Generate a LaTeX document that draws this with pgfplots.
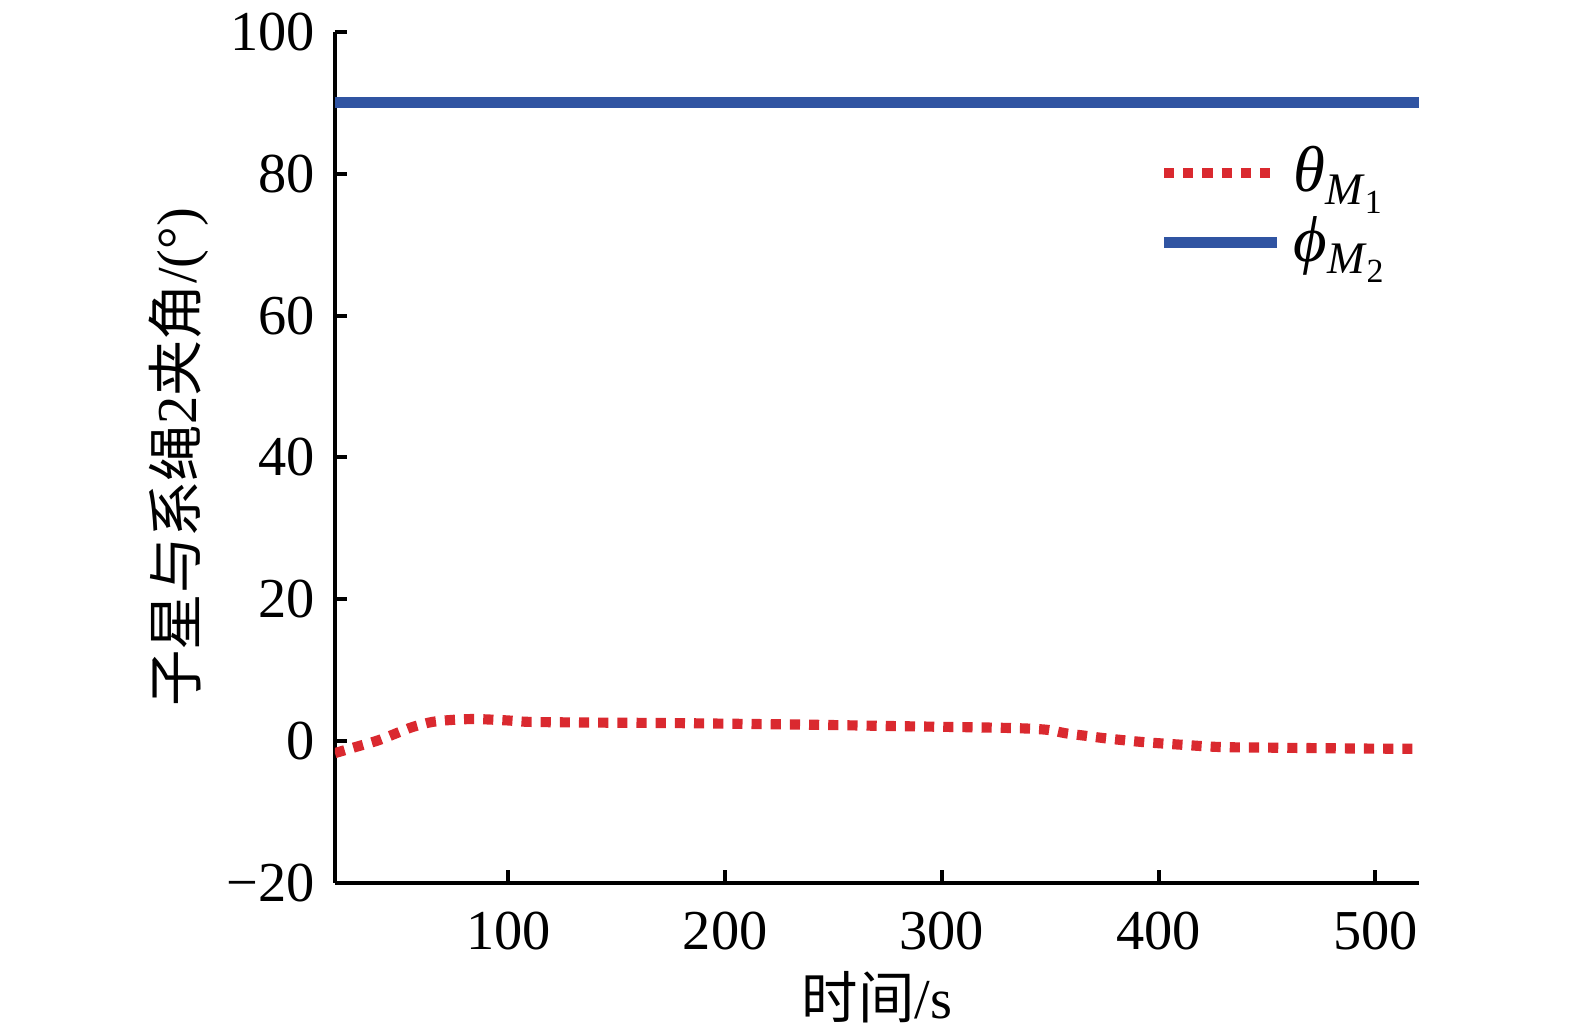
\documentclass[border=0pt]{standalone}
\usepackage{fontspec}
\setmainfont{Liberation Serif}
\newfontfamily\cjk{Noto Sans CJK SC}
\usepackage{pgfplots}
\pgfplotsset{compat=1.18}
\definecolor{cred}{RGB}{218,41,47}
\definecolor{cblue}{RGB}{48,84,162}
\newcommand\lgd[2]{{\fontsize{11.5}{12}\selectfont\textit{#1}}\raisebox{-0.5ex}{\fontsize{8}{8}\selectfont\textit{M}\raisebox{-0.4ex}{\fontsize{6}{6}\selectfont #2}}}
\begin{document}
\begin{tikzpicture}
\begin{axis}[
  scale only axis, width=192.2pt, height=150.9pt,
  xmin=20, xmax=520, ymin=-20, ymax=100,
  axis lines*=left, axis line style={line width=0.7pt, -},
  xtick={100,200,300,400,500}, ytick={-20,0,20,40,60,80,100},
  yticklabels={−20,0,20,40,60,80,100},
  tick align=inside, major tick length=2.2pt, tick style={line width=0.7pt, black},
  /pgf/number format/assume math mode=true,
  ticklabel style={font=\fontsize{10}{12}\selectfont},
  xticklabel style={yshift=-1.6pt},
  xlabel={{\cjk 时间}/s}, ylabel={{\cjk 子星与系绳}2{\cjk 夹角}/(°)},
  label style={font=\fontsize{10}{12}\selectfont},
  xlabel style={at={(axis description cs:0.5,-0.134)}, anchor=center},
  ylabel style={at={(axis description cs:-0.144,0.5)}, anchor=center},
  legend style={draw=none, fill=none, at={(rel axis cs:0.759,0.88)}, anchor=north west, row sep=-1.2pt, inner sep=0pt, nodes={inner sep=2pt}},
  legend cell align=left,
  legend image code/.code={\draw[#1] (0pt,0pt) -- (20pt,0pt);},
]
\addplot[cred, line width=1.8pt, dash pattern=on 1.8pt off 1.6pt, smooth] coordinates {
(20,-1.7) (30,-0.8) (40,0.1) (50,1.3) (56,2.0) (65,2.7) (75,3.0) (85,3.1) (100,2.9) (110,2.7) (140,2.6) (170,2.55) (200,2.45) (240,2.3) (280,2.1) (330,1.85) (348,1.6) (357,1.1) (366,0.75) (375,0.4) (386,0.05) (395,-0.2) (412,-0.55) (429,-0.85) (457,-0.95) (490,-1.05) (520,-1.1)
};
\addlegendentry{\lgd{θ}{1}}
\addplot[cblue, line width=1.9pt] coordinates {(20,90) (521,90)};
\addlegendentry{\lgd{ϕ}{2}}
\end{axis}
\pgfresetboundingbox
\path[use as bounding box] ([shift={(-59.4pt,-26.4pt)}]current axis.south west) rectangle ([shift={(27.7pt,5.66pt)}]current axis.north east);
\end{tikzpicture}
\end{document}
